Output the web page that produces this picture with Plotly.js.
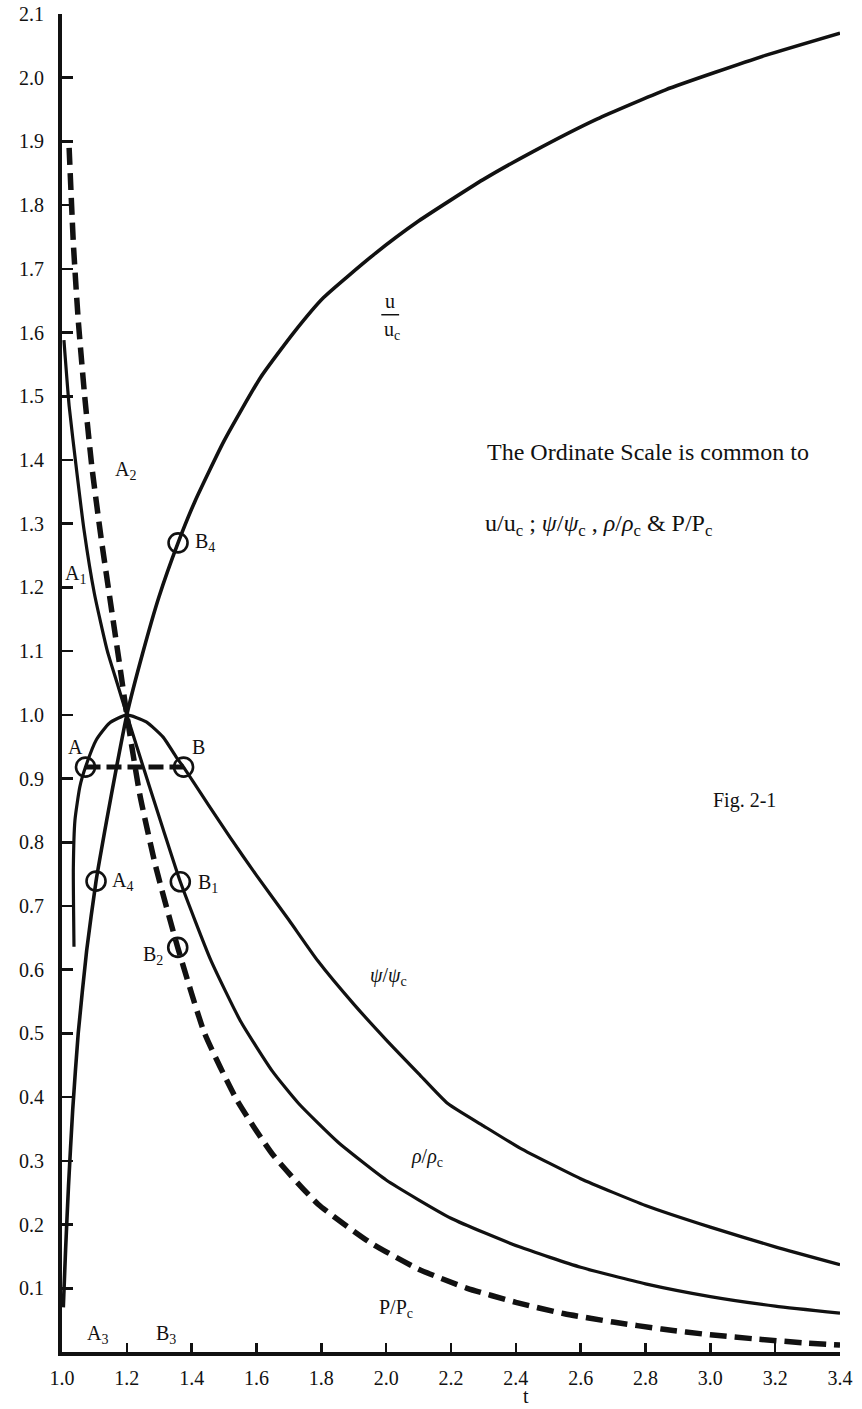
<!DOCTYPE html>
<html>
<head>
<meta charset="utf-8">
<script src="https://cdn.plot.ly/plotly-3.0.1.min.js"></script>
<style>
  html, body { margin: 0; padding: 0; background: #ffffff; }
  #chart { width: 862px; height: 1409px; }
</style>
</head>
<body>
<div id="chart"></div>
<script>
// t = stagnation-to-static temperature ratio; ordinates are ratios to the critical values.

// Velocity ratio u/u_c
const tU = [1.004, 1.011, 1.02, 1.033, 1.05, 1.076, 1.105, 1.138, 1.169, 1.2, 1.249, 1.299, 1.358, 1.41, 1.5, 1.613, 1.715, 1.807, 1.961, 2.1, 2.299, 2.453, 2.65, 2.862, 3.17, 3.4];
const uRatio = [0.07, 0.16, 0.26, 0.38, 0.5, 0.63, 0.739, 0.835, 0.92, 1.0, 1.097, 1.185, 1.27, 1.335, 1.43, 1.53, 1.6, 1.655, 1.722, 1.775, 1.84, 1.884, 1.935, 1.981, 2.035, 2.07];

// Mass-flow ratio psi/psi_c
const tPsi = [1.037, 1.035, 1.04, 1.055, 1.0725, 1.106, 1.146, 1.2, 1.26, 1.312, 1.352, 1.375, 1.45, 1.518, 1.6, 1.7, 1.789, 1.9, 2.0, 2.1, 2.19, 2.3, 2.413, 2.6, 2.8, 3.0, 3.2, 3.4];
const psiRatio = [0.636, 0.76, 0.835, 0.887, 0.918, 0.961, 0.987, 1.0, 0.989, 0.965, 0.934, 0.918, 0.86, 0.808, 0.748, 0.678, 0.614, 0.546, 0.49, 0.437, 0.39, 0.355, 0.32, 0.272, 0.23, 0.196, 0.165, 0.137];

// Density ratio rho/rho_c
const tRho = [1.006, 1.022, 1.045, 1.068, 1.1, 1.14, 1.17, 1.2, 1.27, 1.313, 1.365, 1.459, 1.55, 1.65, 1.73, 1.85, 2.0, 2.2, 2.411, 2.6, 2.8, 3.0, 3.2, 3.4];
const rhoRatio = [1.588, 1.485, 1.384, 1.29, 1.19, 1.1, 1.05, 1.0, 0.887, 0.819, 0.738, 0.615, 0.52, 0.44, 0.39, 0.33, 0.27, 0.21, 0.165, 0.133, 0.107, 0.087, 0.072, 0.061];

// Pressure ratio P/P_c
const tP = [1.022, 1.035, 1.05, 1.07, 1.092, 1.12, 1.15, 1.176, 1.2, 1.24, 1.29, 1.357, 1.44, 1.54, 1.65, 1.79, 1.95, 2.1, 2.25, 2.4, 2.55, 2.7, 2.85, 3.0, 3.15, 3.3, 3.4];
const pRatio = [1.89, 1.74, 1.62, 1.5, 1.39, 1.28, 1.175, 1.085, 1.0, 0.875, 0.76, 0.635, 0.5, 0.395, 0.31, 0.232, 0.172, 0.13, 0.1, 0.078, 0.06, 0.047, 0.036, 0.027, 0.02, 0.014, 0.011];

// Constant-psi chord between A and B
const tChord = [1.0725, 1.375];
const psiChord = [0.918, 0.918];

// Marked points A, B, A4, B1, B2, B4
const tMarks = [1.0725, 1.375, 1.105, 1.365, 1.357, 1.358];
const yMarks = [0.918, 0.918, 0.739, 0.738, 0.635, 1.27];

// Axis ticks
const xTicks = [1.0, 1.2, 1.4, 1.6, 1.8, 2.0, 2.2, 2.4, 2.6, 2.8, 3.0, 3.2, 3.4];
const yTicks = [0.1, 0.2, 0.3, 0.4, 0.5, 0.6, 0.7, 0.8, 0.9, 1.0, 1.1, 1.2, 1.3, 1.4, 1.5, 1.6, 1.7, 1.8, 1.9, 2.0, 2.1];

const SERIF = "'Liberation Serif', 'Times New Roman', serif";
const INK = '#111111';

const solid = (x, y, w) => ({
  x: x, y: y, type: 'scatter', mode: 'lines',
  line: { color: INK, width: w, shape: 'spline', smoothing: 0.5 },
  hoverinfo: 'skip', showlegend: false
});

const traces = [
  solid(tU, uRatio, 3.6),
  solid(tPsi, psiRatio, 3.2),
  solid(tRho, rhoRatio, 3.2),
  {
    x: tP, y: pRatio, type: 'scatter', mode: 'lines',
    line: { color: INK, width: 5.5, dash: '17px,8px', shape: 'spline', smoothing: 0.5 },
    hoverinfo: 'skip', showlegend: false
  },
  {
    x: tChord, y: psiChord, type: 'scatter', mode: 'lines',
    line: { color: INK, width: 5, dash: '15px,6px' },
    hoverinfo: 'skip', showlegend: false
  },
  {
    x: tMarks, y: yMarks, type: 'scatter', mode: 'markers',
    marker: { symbol: 'circle-open', size: 19, color: INK, line: { color: INK, width: 2.6 } },
    hoverinfo: 'skip', showlegend: false
  }
];

// Point names and curve names, centred on (x, y)
const labels = [
  { text: 'A<sub>2</sub>', x: 1.197, y: 1.383 },
  { text: 'A<sub>1</sub>', x: 1.043, y: 1.22 },
  { text: 'A', x: 1.041, y: 0.95 },
  { text: 'B', x: 1.42, y: 0.95 },
  { text: 'B<sub>4</sub>', x: 1.44, y: 1.27 },
  { text: 'A<sub>4</sub>', x: 1.188, y: 0.739 },
  { text: 'B<sub>1</sub>', x: 1.45, y: 0.735 },
  { text: 'B<sub>2</sub>', x: 1.28, y: 0.622 },
  { text: 'A<sub>3</sub>', x: 1.111, y: 0.027 },
  { text: 'B<sub>3</sub>', x: 1.321, y: 0.027 },
  { text: 'u', x: 2.012, y: 1.65 },
  { text: 'u<sub>c</sub>', x: 2.018, y: 1.603 },
  { text: '<i>ψ</i>/<i>ψ</i><sub>c</sub>', x: 2.008, y: 0.589 },
  { text: '<i>ρ</i>/<i>ρ</i><sub>c</sub>', x: 2.126, y: 0.306 },
  { text: 'P/P<sub>c</sub>', x: 2.03, y: 0.069 },
  { text: 'Fig. 2-1', x: 3.104, y: 0.866 }
];

// Note on the common ordinate scale, left-aligned
const notes = [
  { text: 'The Ordinate Scale is common to', x: 2.306, y: 1.413 },
  { text: 'u/u<sub>c</sub> ; <i>ψ</i>/<i>ψ</i><sub>c</sub> , <i>ρ</i>/<i>ρ</i><sub>c</sub> &amp; P/P<sub>c</sub>', x: 2.298, y: 1.298 }
];

const annotations = labels.map(l => ({
  text: l.text, x: l.x, y: l.y, xref: 'x', yref: 'y',
  xanchor: 'center', yanchor: 'middle', showarrow: false,
  font: { family: SERIF, size: 20, color: INK }
})).concat(notes.map(n => ({
  text: n.text, x: n.x, y: n.y, xref: 'x', yref: 'y',
  xanchor: 'left', yanchor: 'middle', showarrow: false,
  font: { family: SERIF, size: 24, color: INK }
}))).concat([{
  // abscissa name, set just under the 2.4 tick label
  text: 't', x: 2.432, y: 0, xref: 'x', yref: 'paper',
  xanchor: 'center', yanchor: 'bottom', yshift: -56, borderpad: 0, showarrow: false,
  font: { family: SERIF, size: 20, color: INK }
}]);

const axisCommon = {
  showline: true, linecolor: INK, linewidth: 4,
  ticks: 'inside', tickcolor: INK, tickwidth: 2.5,
  showgrid: false, zeroline: false, tickformat: '.1f',
  tickfont: { family: SERIF, size: 20, color: INK },
  fixedrange: true
};

const layout = {
  width: 862, height: 1409,
  margin: { l: 62, r: 22, t: 14, b: 57 },
  paper_bgcolor: '#ffffff', plot_bgcolor: '#ffffff',
  showlegend: false,
  xaxis: Object.assign({}, axisCommon, {
    range: [1.0, 3.4], tickvals: xTicks, ticklen: 9, ticklabelstandoff: 5
  }),
  yaxis: Object.assign({}, axisCommon, {
    range: [0, 2.1], tickvals: yTicks, ticklen: 11, ticklabelstandoff: 10
  }),
  shapes: [{
    // fraction bar of the u/u_c label
    type: 'line', xref: 'x', yref: 'y',
    x0: 1.985, x1: 2.04, y0: 1.628, y1: 1.628,
    line: { color: INK, width: 1.5 }
  }],
  annotations: annotations
};

Plotly.newPlot('chart', traces, layout, { staticPlot: true, displayModeBar: false });
</script>
</body>
</html>
